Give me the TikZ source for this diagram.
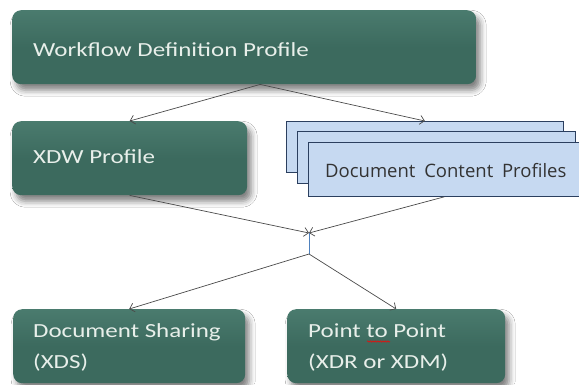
\documentclass[tikz,border=0pt]{standalone}
\usepackage{fontspec}
\setmainfont{Carlito}
\newfontfamily\dcpfont{Open Sans}
\usepackage{graphicx}
\usetikzlibrary{arrows.meta,shadows.blur,decorations.pathmorphing}
\definecolor{boxgreen}{HTML}{3C6A5E}
\definecolor{boxgreentop}{HTML}{4A7B6E}
\definecolor{boxtext}{HTML}{E8EFEA}
\definecolor{bluefill}{HTML}{C6D9F1}
\definecolor{blueline}{HTML}{2B3F5F}
\definecolor{linegray}{HTML}{4A4A4A}
\definecolor{juncblue}{HTML}{4F81BD}
\newcommand\widetxt[1]{\scalebox{1.25}[1]{#1}}
\begin{document}
\begin{tikzpicture}[x=1pt,y=-1pt,
  greenbox/.style={draw=none, top color=boxgreentop, bottom color=boxgreen, middle color=boxgreen,
    rounded corners=9pt, anchor=north west, inner sep=0pt,
    blur shadow={shadow xshift=4pt, shadow yshift=-6pt, shadow blur radius=6pt, shadow opacity=50}},
  gtext/.style={anchor=base west, inner sep=0pt, text=boxtext, font=\fontsize{20}{31}\selectfont},
  bluebox/.style={draw=blueline, fill=bluefill, line width=0.8pt, anchor=north west, inner sep=0pt},
  btext/.style={anchor=base west, inner sep=0pt, text=black!80, font=\dcpfont\fontsize{18.5}{22}\selectfont},
  conn/.style={draw=linegray, line width=0.7pt, -{Straight Barb[length=4.5pt,width=9pt]}},
  junc/.style={draw=juncblue, line width=1pt}
]
\useasboundingbox (0,0) rectangle (579,384);
\fill[white] (0,0) rectangle (579,384);

% green boxes
\node[greenbox, minimum width=464pt, minimum height=74pt] (wdp) at (12,10) {};
\node[greenbox, minimum width=235pt, minimum height=74pt] (xdw) at (12,121) {};
\node[greenbox, minimum width=232pt, minimum height=74pt] (ds) at (13,309) {};
\node[greenbox, minimum width=218pt, minimum height=74pt] (ptp) at (287,309) {};

\node[gtext] (wdpt) at (33,56) {\widetxt{Workflow Definition Profile}};
\node[gtext] (xdwt) at (33,163) {\widetxt{XDW Profile}};
\node[gtext] (dst) at (33,337) {\widetxt{\begin{tabular}[t]{@{}l@{}}Document Sharing\\(XDS)\end{tabular}}};
\node[gtext] (ptpt) at (308,337) {\widetxt{\begin{tabular}[t]{@{}l@{}}Point to Point\\(XDR or XDM)\end{tabular}}};
\draw[red, line width=0.5pt, decorate, decoration={snake, amplitude=0.7pt, segment length=2.5pt}] (367,341.5) -- (390,341.5);

% stacked blue boxes
\node[bluebox, minimum width=277pt, minimum height=51pt] (r1) at (286,121) {};
\node[bluebox, minimum width=278pt, minimum height=52pt] (r2) at (297,131) {};
\node[bluebox, minimum width=272pt, minimum height=54pt] (r3) at (308,142) {};
\node[btext] (r3t) at (325,177) {Document\hspace{4pt} Content\hspace{4pt} Profiles};

% junction
\coordinate (j1) at (309,233);
\coordinate (j2) at (309,254);

% connectors
\draw[conn] ([xshift=16pt]wdp.south) -- (xdw.north);
\draw[conn] ([xshift=16pt]wdp.south) -- (r1.north);
\draw[conn] (xdw.south) -- (j1);
\draw[conn] (r3.south) -- (j1);
\draw[junc] (j1) -- (j2);
\draw[conn] (j2) -- (ds.north);
\draw[conn] (j2) -- (ptp.north);
\end{tikzpicture}
\end{document}
